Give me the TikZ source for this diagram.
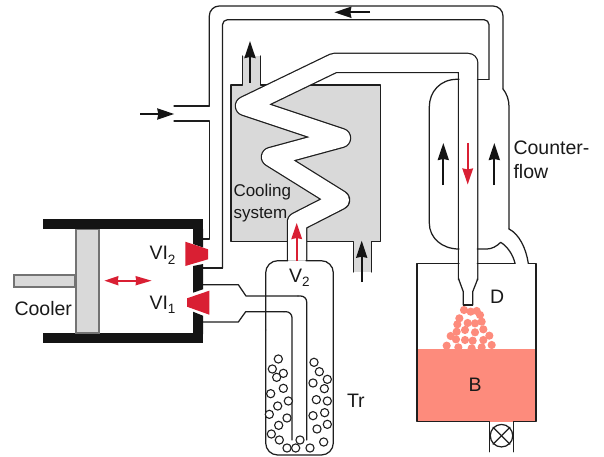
\documentclass[tikz,border=0pt]{standalone}
\usepackage{fontspec}
\setmainfont{Liberation Sans}
\usetikzlibrary{arrows.meta}
\definecolor{boxgray}{HTML}{D9D9D9}
\definecolor{ink}{HTML}{1E1E1E}
\definecolor{valvered}{HTML}{D91F33}
\definecolor{salmon}{HTML}{FD8B7C}
\tikzset{
  pipe/.style={draw=ink,line width=1.25pt,line join=round,line cap=round},
  wall/.style={fill=black!92,draw=none},
  blackarrow/.style={draw=black!92,line width=2.1pt,-{Stealth[length=17pt,width=11pt,inset=1pt]}},
  redarrow/.style={draw=valvered,line width=2.1pt,-{Stealth[length=16pt,width=10.5pt,inset=1pt]}},
  biglabel/.style={anchor=base west,inner sep=0pt,outer sep=0pt,text=black!90,font=\fontsize{19.5}{23}\selectfont},
  smalllabel/.style={anchor=base west,inner sep=0pt,outer sep=0pt,text=black!90,font=\fontsize{17}{20}\selectfont},
  bead/.style={draw=ink,line width=1.1pt,fill=white},
  drop/.style={fill=salmon,draw=none}
}
\newcommand{\subdigit}[1]{\raisebox{-4.5pt}{\fontsize{13.5}{14}\selectfont #1}}
\begin{document}
\begin{tikzpicture}[x=1pt,y=-1pt]
\useasboundingbox (0,0) rectangle (604,457);
% cooling box
\fill[boxgray] (231,85) rectangle (380.7,241.7);
\fill[boxgray] (242.3,56) rectangle (260.7,85);
\fill[boxgray] (353.3,241.7) rectangle (371.7,272);
\draw[pipe] (242.3,56) -- (242.3,85) -- (231,85) -- (231,241.7) -- (287.7,241.7);
\draw[pipe] (306,241.7) -- (353.3,241.7) -- (353.3,272);
\draw[pipe] (371.7,272) -- (371.7,241.7) -- (380.7,241.7) -- (380.7,85) -- (260.7,85) -- (260.7,56);
% coil
\draw[draw=ink,line width=1.25pt,double=white,double distance=18pt,line join=round]
  (297,260.5) -- (297,222) -- (340,200) -- (271,157) -- (341,138) -- (245,106) -- (334,63) -- (468.2,63) -- (468.2,280);
% needle tip
\fill[white] (459,279) -- (477.3,279) -- (472.7,291.7) -- (472.7,305) -- (463.3,305) -- (463.3,291.7) -- cycle;
\draw[pipe] (459,279) -- (459,280) -- (463.3,291.7) -- (463.3,305);
\draw[pipe] (477.3,279) -- (477.3,280) -- (472.7,291.7) -- (472.7,305);
\draw[draw=ink,line width=2pt] (462.8,305) -- (473.2,305);
% return pipe
\draw[pipe] (174,106) -- (209.3,106);
\draw[pipe,rounded corners=10pt] (209.3,106) -- (209.3,6) -- (503,6) -- (503,89);
\draw[pipe] (503,89) .. controls (507,94) and (509,100) .. (509,107) -- (509,229);
\draw[pipe] (203,268) -- (222.5,268);
\draw[pipe,rounded corners=5pt] (222.5,268) -- (222.5,19.7) -- (489,19.7) -- (489,79.3);
\draw[pipe] (489,79.3) -- (477.5,79.3);
\draw[pipe] (174,121) -- (209.3,121) -- (209.3,239) -- (203,239);
% jacket
\draw[pipe] (459,79.3) -- (457,79.3) .. controls (440,79.3) and (429.3,92) .. (429.3,107) -- (429.3,223)
  .. controls (429.3,238) and (442,249) .. (459,249);
\draw[pipe] (477.3,249) -- (487,249) .. controls (492,249) and (497,246) .. (500.7,242.3)
  .. controls (508,247) and (513,255) .. (515,263.3);
\draw[pipe] (509,229) .. controls (519,234) and (526,248) .. (528.3,263.3);
% vessel
\fill[salmon] (417,349) rectangle (536,421.7);
\draw[pipe] (459,263.3) -- (417,263.3) -- (417,421.7) -- (489.3,421.7) -- (489.3,451.7);
\draw[pipe] (477.3,263.3) -- (515,263.3);
\draw[pipe] (528.3,263.3) -- (536,263.3) -- (536,421.7) -- (513.3,421.7) -- (513.3,451.7);
\node[circle,draw=ink,line width=1.25pt,fill=white,minimum size=22.5pt,inner sep=0pt] (outv) at (501.5,435.7) {};
\draw[pipe] (outv.north west) -- (outv.south east);
\draw[pipe] (outv.north east) -- (outv.south west);
\foreach \x/\y in {102/45,122/50,140/48,150/60,88/70,113/84,135/85,155/80,82/88,105/105,80/110,135/112,160/103,62/123,78/133,105/135,128/137,160/135,178/122,50/152,85/157,125/160,155/157,185/150}
  \fill[drop] ({430+\x/3},{295+\y/3}) circle (4.1pt);
% trap
\draw[pipe,rounded corners=12pt] (265.7,330) -- (265.7,260.7) -- (287.7,260.7);
\draw[pipe,rounded corners=12pt] (306,260.7) -- (333.3,260.7) -- (333.3,455) -- (265.7,455) -- (265.7,330);
\draw[pipe] (203,284.7) -- (238.3,284.7) -- (246,296) -- (298,296);
\draw[pipe,rounded corners=6pt] (298,296) -- (306.7,296) -- (306.7,440);
\draw[pipe] (203,322) -- (238.3,322) -- (245.7,311.7) -- (284,311.7);
\draw[pipe,rounded corners=6pt] (284,311.7) -- (292,311.7) -- (292,440);
\foreach \x/\y in {115/117,97/147,130/160,110/172,130/205,92/221,145/243,113/258,88/283,141/294,116/316,94/342,118/360,141/384,167/384,180/360,210/384,251/366,231/327,262/313,219/287,254/278,262/243,229/239,253/206,219/189,262/178,238/155,222/127}
  \draw[bead] ({240+\x/3},{320+\y/3}) circle (4.1pt);
% cylinder
\fill[wall] (43,219.3) rectangle (203,229.3);
\fill[wall] (43,333) rectangle (203,343);
\fill[wall] (193,229) -- (203,229) -- (203,247.5) -- (193,244) -- cycle;
\fill[wall] (193,266) -- (203,264) -- (203,289.3) -- (193,292.7) -- cycle;
\fill[wall] (193,311.7) -- (203,315.7) -- (203,334) -- (193,334) -- cycle;
\draw[draw=black!55,line width=1.25pt,fill=boxgray] (76,229.3) rectangle (99,333);
\draw[draw=black!55,line width=1.25pt,fill=boxgray] (14,275) rectangle (75,287);
\fill[valvered] (185.3,241.7) -- (208,249.3) -- (208,259.3) -- (185.3,266) -- cycle;
\fill[valvered] (209.3,290.7) -- (209.3,314.7) -- (187,306.7) -- (187,298.3) -- cycle;
% arrows
\coordinate (a1s) at (370,12.3); \coordinate (a1e) at (334.3,12.3);
\coordinate (a2s) at (140,114); \coordinate (a2e) at (174.3,114);
\coordinate (a3s) at (250,82.7); \coordinate (a3e) at (250,41);
\coordinate (a4s) at (361.7,282); \coordinate (a4e) at (361.7,240.7);
\coordinate (a5s) at (443.3,185); \coordinate (a5e) at (443.3,143);
\coordinate (a6s) at (494.3,185); \coordinate (a6e) at (494.3,143);
\coordinate (a7s) at (467.7,143); \coordinate (a7e) at (467.7,184.5);
\coordinate (a8s) at (296.7,261); \coordinate (a8e) at (296.7,223);
\coordinate (a9s) at (104.3,280.7); \coordinate (a9e) at (151.7,280.7);
\foreach \n in {1,...,6} \draw[blackarrow] (a\n s) -- (a\n e);
\draw[redarrow] (a7s) -- (a7e);
\draw[redarrow] (a8s) -- (a8e);
\draw[draw=valvered,line width=1.8pt,{Stealth[length=14pt,width=9pt,inset=0.5pt]}-{Stealth[length=16pt,width=9pt,inset=0.5pt]}] (a9s) -- (a9e);
% labels
\node[biglabel] (cooler) at (14.5,315) {Cooler};
\node[smalllabel] (cool1) at (233.5,196) {Cooling};
\node[smalllabel] (cool2) at (233.5,218) {system};
\node[biglabel] (vi2) at (149.5,259.5) {VI\subdigit{2}};
\node[biglabel] (vi1) at (149.5,309) {VI\subdigit{1}};
\node[biglabel] (v2) at (289,282) {V\subdigit{2}};
\node[biglabel] (tr) at (347,407) {Tr};
\node[biglabel] (dl) at (490,303.3) {D};
\node[biglabel] (bl) at (468.5,391.7) {B};
\node[biglabel] (c1) at (513.5,155) {Counter-};
\node[biglabel] (c2) at (513.5,178) {flow};
\end{tikzpicture}
\end{document}
